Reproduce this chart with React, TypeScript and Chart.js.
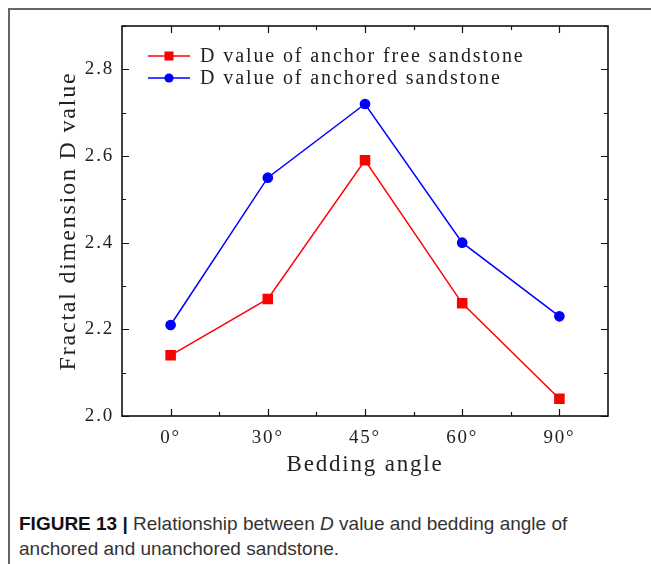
import React, { useEffect, useRef } from "react";
import { Chart, registerables } from "chart.js";

Chart.register(...registerables);

const categories = ["0°", "30°", "45°", "60°", "90°"];
const anchorFree = [2.14, 2.27, 2.59, 2.26, 2.04];
const anchored = [2.21, 2.55, 2.72, 2.4, 2.23];
const seriesLabels = ["D value of anchor free sandstone", "D value of anchored sandstone"];
const yMin = 2.0;
const yMax = 2.9;
const yStep = 0.2;
const yMinorStep = 0.1;
const xTitle = "Bedding angle";
const yTitle = "Fractal dimension D value";

const SERIF = "'Liberation Serif', 'Times New Roman', serif";
const TEXT = "#222";
const SPACING = "1.8px";

const spacingPlugin = {
  id: "spacing",
  beforeUpdate(chart: any) {
    (chart.ctx as any).letterSpacing = SPACING;
  },
  beforeDraw(chart: any) {
    (chart.ctx as any).letterSpacing = SPACING;
  },
};

const framePlugin = {
  id: "frame",
  beforeDatasetsDraw(chart: any) {
    const { ctx, chartArea, scales } = chart;
    const { left, right, top, bottom } = chartArea;
    const x = scales.x;
    const y = scales.y;
    ctx.save();
    ctx.strokeStyle = "#111";
    ctx.lineWidth = 1.2;
    ctx.beginPath();
    const n = Math.round((yMax - yMin) / yMinorStep);
    for (let i = 0; i <= n; i++) {
      const v = yMin + i * yMinorStep;
      const py = Math.round(y.getPixelForValue(v)) + 0.5;
      const k = (v - yMin) / yStep;
      const major = Math.abs(k - Math.round(k)) < 1e-6;
      const len = major ? 7 : 4;
      ctx.moveTo(left, py);
      ctx.lineTo(left + len, py);
      ctx.moveTo(right, py);
      ctx.lineTo(right - len, py);
    }
    for (let i = 0; i < categories.length; i++) {
      const px = Math.round(x.getPixelForValue(i)) + 0.5;
      ctx.moveTo(px, bottom);
      ctx.lineTo(px, bottom - 7);
      ctx.moveTo(px, top);
      ctx.lineTo(px, top + 7);
      if (i < categories.length - 1) {
        const mx = Math.round(x.getPixelForValue(i + 0.5)) + 0.5;
        ctx.moveTo(mx, bottom);
        ctx.lineTo(mx, bottom - 4);
        ctx.moveTo(mx, top);
        ctx.lineTo(mx, top + 4);
      }
    }
    ctx.stroke();
    ctx.lineWidth = 1.6;
    ctx.strokeRect(left, top, right - left, bottom - top);
    ctx.restore();
  },
  afterDatasetsDraw(chart: any) {
    const { ctx, chartArea } = chart;
    const { left, top } = chartArea;
    ctx.save();
    chart.data.datasets.forEach((ds: any, i: number) => {
      const yy = top + 30 + i * 22;
      const x0 = left + 26;
      const x1 = left + 68;
      ctx.strokeStyle = ds.borderColor;
      ctx.lineWidth = 1.5;
      ctx.beginPath();
      ctx.moveTo(x0, yy);
      ctx.lineTo(x1, yy);
      ctx.stroke();
      ctx.fillStyle = ds.backgroundColor;
      const cx = (x0 + x1) / 2;
      if (ds.pointStyle === "rect") {
        ctx.fillRect(cx - 4.5, yy - 4.5, 9, 9);
      } else {
        ctx.beginPath();
        ctx.arc(cx, yy, 4.6, 0, Math.PI * 2);
        ctx.fill();
      }
      ctx.fillStyle = TEXT;
      ctx.font = `20px ${SERIF}`;
      (ctx as any).letterSpacing = "1.9px";
      ctx.textBaseline = "middle";
      ctx.textAlign = "left";
      ctx.fillText(ds.label, left + 78, yy + 1);
    });
    ctx.restore();
  },
};

export default function App() {
  const ref = useRef<HTMLCanvasElement | null>(null);

  useEffect(() => {
    if (!ref.current) return;
    const chart = new Chart(ref.current, {
      type: "line",
      data: {
        labels: categories,
        datasets: [
          {
            label: seriesLabels[0],
            data: anchorFree,
            borderColor: "#ff0000",
            backgroundColor: "#ff0000",
            borderWidth: 1.5,
            pointStyle: "rect",
            pointRadius: 6.4,
            pointHoverRadius: 6.4,
            tension: 0,
          },
          {
            label: seriesLabels[1],
            data: anchored,
            borderColor: "#0000ff",
            backgroundColor: "#0000ff",
            borderWidth: 1.5,
            pointStyle: "circle",
            pointRadius: 4.6,
            pointHoverRadius: 4.6,
            tension: 0,
          },
        ],
      },
      options: {
        animation: false,
        responsive: false,
        maintainAspectRatio: false,
        layout: { padding: { top: 26, right: 43, left: 0, bottom: 0 } },
        plugins: {
          legend: { display: false },
          tooltip: { enabled: false },
        },
        scales: {
          x: {
            type: "category",
            offset: true,
            grid: { display: false, drawTicks: false },
            border: { display: false },
            ticks: { font: { family: SERIF, size: 19 }, color: TEXT, padding: 11 },
            title: {
              display: true,
              text: xTitle,
              font: { family: SERIF, size: 23 },
              color: TEXT,
              padding: { top: 0, bottom: 11 },
            },
            afterFit: (s: any) => {
              s.height = 74;
            },
          },
          y: {
            type: "linear",
            min: yMin,
            max: yMax,
            grid: { display: false, drawTicks: false },
            border: { display: false },
            ticks: {
              stepSize: yStep,
              includeBounds: false,
              font: { family: SERIF, size: 19 },
              color: TEXT,
              padding: 8,
              callback: (v: any) => {
                const n = Number(v);
                const k = (n - yMin) / yStep;
                if (Math.abs(k - Math.round(k)) > 1e-6) return "";
                return n.toFixed(1);
              },
            },
            title: {
              display: true,
              text: yTitle,
              font: { family: SERIF, size: 24 },
              color: TEXT,
              padding: { top: 54, bottom: 0 },
            },
            afterFit: (s: any) => {
              s.width = 122;
            },
          },
        },
      },
      plugins: [spacingPlugin, framePlugin],
    });
    return () => chart.destroy();
  }, []);

  return (
    <div style={{ position: "absolute", left: 0, top: 0, width: 651, height: 564, overflow: "hidden", background: "#fff" }}>
      <div
        style={{
          position: "absolute",
          left: 8,
          top: 8,
          width: 643,
          height: 556,
          boxSizing: "border-box",
          borderTop: "2px solid #666",
          borderLeft: "2px solid #666",
        }}
      />
      <canvas ref={ref} width={651} height={490} style={{ position: "absolute", left: 0, top: 0, width: 651, height: 490 }} />
      <div
        style={{
          position: "absolute",
          left: 19,
          top: 511,
          width: 630,
          fontFamily: "'Liberation Sans', Arial, sans-serif",
          fontSize: 19,
          lineHeight: "25px",
          color: "#333",
          whiteSpace: "nowrap",
        }}
      >
        <span style={{ fontWeight: "bold", color: "#111" }}>FIGURE 13 | </span>
        Relationship between <i>D</i> value and bedding angle of
        <br />
        anchored and unanchored sandstone.
      </div>
    </div>
  );
}
